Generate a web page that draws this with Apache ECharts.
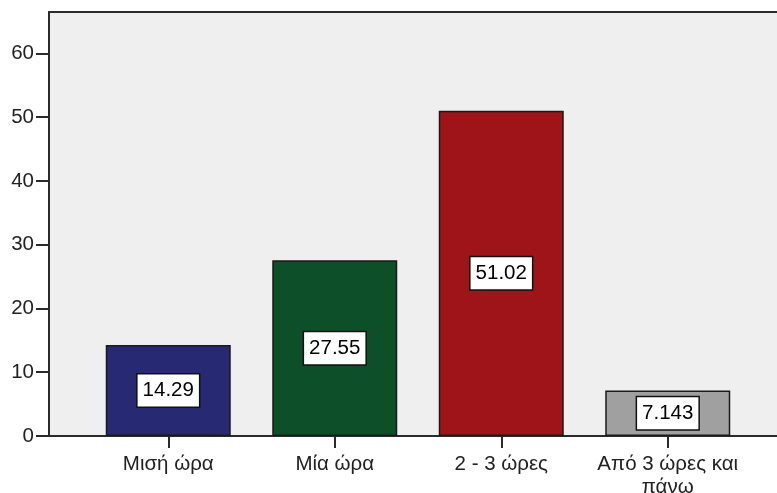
<!DOCTYPE html>
<html>
<head>
<meta charset="utf-8">
<script src="https://cdn.jsdelivr.net/npm/echarts@6/dist/echarts.min.js"></script>
<style>
  html, body { margin: 0; padding: 0; background: #fff; }
  #chart { width: 777px; height: 493px; }
</style>
</head>
<body>
<div id="chart"></div>
<script>
// Time spent per session: percentage of respondents
const categories = ['Μισή ώρα', 'Μία ώρα', '2 - 3 ώρες', 'Από 3 ώρες και\nπάνω'];
const percents = [14.29, 27.55, 51.02, 7.143];
const barColors = ['#272a73', '#0d4f29', '#9e1418', '#a0a0a0'];
const yTicks = [0, 10, 20, 30, 40, 50, 60];

const FONT = '"Liberation Sans", Arial, sans-serif';
const Y_MAX = 66.5;

const chart = echarts.init(document.getElementById('chart'), null, { renderer: 'canvas' });

chart.setOption({
  animation: false,
  backgroundColor: '#ffffff',
  grid: [
    // frame with background and value axis
    { left: 49, right: 0, top: 12, bottom: 57, show: true, backgroundColor: '#efefef', borderWidth: 0,
      containLabel: false, outerBoundsMode: 'none' },
    // bar area
    { left: 85, right: 26, top: 12, bottom: 57, containLabel: false, outerBoundsMode: 'none' }
  ],
  xAxis: [
    { gridIndex: 0, type: 'value', min: 0, max: 1, position: 'bottom',
      axisLine: { show: true, lineStyle: { color: '#2b2b2b', width: 2 } },
      axisTick: { show: false }, axisLabel: { show: false }, splitLine: { show: false } },
    { gridIndex: 0, type: 'value', min: 0, max: 1, position: 'top',
      axisLine: { show: true, lineStyle: { color: '#2b2b2b', width: 2 } },
      axisTick: { show: false }, axisLabel: { show: false }, splitLine: { show: false } },
    { gridIndex: 1, type: 'category', data: categories, position: 'bottom',
      axisLine: { show: false },
      axisTick: { show: true, alignWithLabel: true, length: 12, lineStyle: { color: '#2b2b2b', width: 2 } },
      axisLabel: { color: '#222', fontFamily: FONT, fontSize: 20.5, margin: 17, lineHeight: 23, interval: 0 } }
  ],
  yAxis: [
    { gridIndex: 0, type: 'value', min: 0, max: Y_MAX, interval: 10,
      axisLine: { show: true, lineStyle: { color: '#2b2b2b', width: 2 } },
      axisTick: { show: true, length: 13, customValues: yTicks, lineStyle: { color: '#2b2b2b', width: 2 } },
      axisLabel: { color: '#222', fontFamily: FONT, fontSize: 20.5, margin: 15, customValues: yTicks },
      splitLine: { show: false } },
    { gridIndex: 1, type: 'value', min: 0, max: Y_MAX, show: false }
  ],
  series: [{
    type: 'bar',
    xAxisIndex: 2,
    yAxisIndex: 1,
    barWidth: 125,
    data: percents.map((v, i) => ({
      value: v,
      itemStyle: { color: barColors[i], borderColor: '#1a1a1a', borderWidth: 1.5 }
    })),
    label: {
      show: true,
      position: 'inside',
      formatter: p => String(percents[p.dataIndex]),
      color: '#000',
      fontFamily: FONT,
      fontSize: 20.5,
      backgroundColor: '#ffffff',
      borderColor: '#111',
      borderWidth: 1.5,
      padding: [6, 5, 5, 5]
    }
  }]
});
</script>
</body>
</html>
